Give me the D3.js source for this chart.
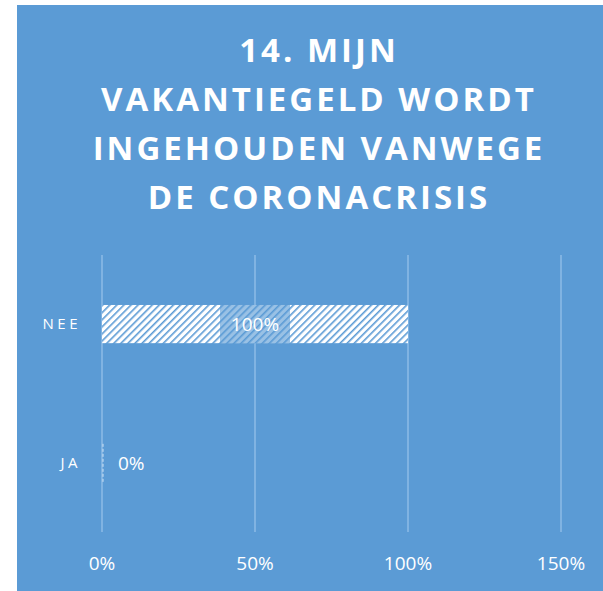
<!DOCTYPE html>
<html>
<head>
<meta charset="utf-8">
<script src="https://d3js.org/d3.v7.min.js"></script>
<style>
  body { margin: 0; background: #fff; }
  svg text { font-family: "Open Sans", sans-serif; fill: #fff; }
</style>
</head>
<body>
<svg id="chart" width="603" height="591"></svg>
<script>
// data
const categories = ['NEE', 'JA'];
const values = [100, 0];
const ticks = [0, 50, 100, 150];
const titleLines = ['14. MIJN', 'VAKANTIEGELD WORDT', 'INGEHOUDEN VANWEGE', 'DE CORONACRISIS'];

const svg = d3.select('svg#chart');
const blue = '#5b9bd5';

const margin = {left: 102, right: 42, top: 255, bottom: 59};
const width = 603 - margin.left - margin.right;
const height = 591 - margin.top - margin.bottom;

// background panel
svg.append('rect')
    .attr('x', 17).attr('y', 5)
    .attr('width', 603 - 17).attr('height', 591 - 5)
    .attr('fill', blue);

// hatch pattern for the bar
const defs = svg.append('defs');
const pat = defs.append('pattern')
    .attr('id', 'hatch')
    .attr('patternUnits', 'userSpaceOnUse')
    .attr('width', 5).attr('height', 5)
    .attr('patternTransform', 'rotate(45)');
pat.append('rect').attr('width', 5).attr('height', 5).attr('fill', '#fff');
pat.append('rect').attr('x', 0).attr('width', 1.6).attr('height', 5).attr('fill', blue);

// title
const title = svg.append('text')
    .attr('text-anchor', 'middle')
    .style('font-weight', 'bold')
    .style('font-size', '33px')
    .style('letter-spacing', '3px');
titleLines.forEach((t, i) => {
    title.append('tspan')
        .attr('x', 319)
        .attr('y', 62 + i * 49)
        .text(t);
});

const x = d3.scaleLinear().domain([0, 150]).range([0, width]);
const y = d3.scaleBand().domain(categories).range([0, height]).paddingInner(0.725).paddingOuter(0.36);

const g = svg.append('g').attr('transform', 'translate(' + margin.left + ',' + margin.top + ')');

// gridlines
g.selectAll('line.grid').data(ticks).enter().append('line')
    .classed('grid', true)
    .attr('x1', d => x(d)).attr('x2', d => x(d))
    .attr('y1', 0).attr('y2', height)
    .attr('stroke', '#8dbbe6')
    .attr('stroke-width', 1.5);

// x axis labels
g.selectAll('text.xtick').data(ticks).enter().append('text')
    .classed('xtick', true)
    .attr('x', d => x(d))
    .attr('y', height + 38)
    .attr('text-anchor', 'middle')
    .style('font-size', '19px')
    .text(d => d + '%');

// y axis labels
g.selectAll('text.ytick').data(categories).enter().append('text')
    .classed('ytick', true)
    .attr('x', -21)
    .attr('y', d => y(d) + y.bandwidth() / 2)
    .attr('dy', '0.35em')
    .attr('text-anchor', 'end')
    .style('font-size', '15px')
    .style('letter-spacing', '3.5px')
    .text(d => d);

// bars
const bars = g.selectAll('g.bar').data(categories.map((c, i) => ({cat: c, val: values[i]})))
    .enter().append('g').classed('bar', true);

bars.append('rect')
    .attr('x', 0)
    .attr('y', d => y(d.cat))
    .attr('width', d => x(d.val))
    .attr('height', y.bandwidth())
    .attr('fill', 'url(#hatch)');

// zero bar shows as dashed edge
bars.filter(d => d.val === 0).append('line')
    .attr('x1', 1).attr('x2', 1)
    .attr('y1', d => y(d.cat)).attr('y2', d => y(d.cat) + y.bandwidth())
    .attr('stroke', '#cfe2f5')
    .attr('stroke-dasharray', '3,2');

// data labels
bars.each(function(d) {
    const sel = d3.select(this);
    const label = d.val + '%';
    if (d.val > 0) {
        const cx = x(d.val) / 2;
        sel.append('rect')
            .attr('x', cx - 35)
            .attr('y', y(d.cat))
            .attr('width', 70)
            .attr('height', y.bandwidth())
            .attr('fill', blue)
            .attr('fill-opacity', 0.62);
        sel.append('text')
            .attr('x', cx)
            .attr('y', y(d.cat) + y.bandwidth() / 2)
            .attr('dy', '0.35em')
            .attr('text-anchor', 'middle')
            .style('font-size', '19px')
            .text(label);
    } else {
        sel.append('text')
            .attr('x', x(d.val) + 16)
            .attr('y', y(d.cat) + y.bandwidth() / 2)
            .attr('dy', '0.35em')
            .attr('text-anchor', 'start')
            .style('font-size', '19px')
            .text(label);
    }
});
</script>
</body>
</html>
